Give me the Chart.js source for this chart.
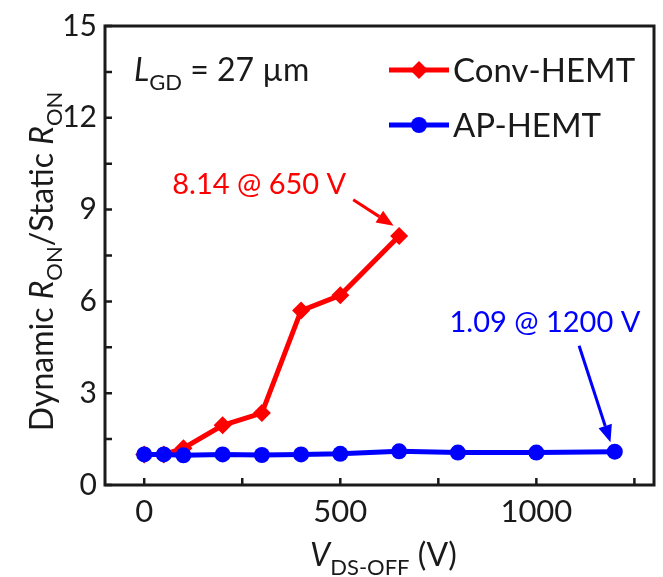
<!DOCTYPE html>
<html>
<head>
<meta charset="utf-8">
<script src="https://cdn.jsdelivr.net/npm/chart.js@4/dist/chart.umd.min.js"></script>
<style>
  html, body { margin: 0; padding: 0; background: #fff; }
</style>
</head>
<body>
<canvas id="chart" width="663" height="577"></canvas>
<script>
// Data
const convX = [0, 50, 100, 200, 300, 400, 500, 650];
const convY = [1.0, 1.0, 1.2, 1.95, 2.35, 5.7, 6.2, 8.14];
const apX = [0, 50, 100, 200, 300, 400, 500, 650, 800, 1000, 1200];
const apY = [1.0, 1.0, 0.97, 1.0, 0.98, 1.0, 1.02, 1.1, 1.06, 1.06, 1.09];

const xLabelTicks = [0, 500, 1000];
const xMinorTicks = [0, 250, 500, 750, 1000, 1250];
const yLabelTicks = [0, 3, 6, 9, 12, 15];
const yMinorTicks = [0, 1.5, 3, 4.5, 6, 7.5, 9, 10.5, 12, 13.5, 15];

const RED = '#ff0000';
const BLUE = '#0000ff';
const FONT = 'Lato';
const INK = '#1a1a1a';

// callouts, anchored in data units
const notes = [
  { text: '8.14 @ 650 V', color: RED, x: 515, y: 9.8, from: [533, 9.32], to: [636, 8.47] },
  { text: '1.09 @ 1200 V', color: BLUE, x: 1265, y: 5.3, from: [1109, 4.55], to: [1189, 1.4] }
];

function font(size, italic) {
  return (italic ? 'italic ' : '') + size + 'px ' + FONT;
}

// draw a list of text runs, subscripts smaller and lowered
function drawRuns(ctx, runs, x, y, size, align) {
  const subSize = Math.round(size * 0.68);
  let total = 0;
  runs.forEach(r => {
    ctx.font = font(r.sub ? subSize : size, r.italic);
    r.w = ctx.measureText(r.t).width;
    total += r.w;
  });
  let cx = align === 'center' ? x - total / 2 : (align === 'right' ? x - total : x);
  ctx.textAlign = 'left';
  ctx.textBaseline = 'alphabetic';
  runs.forEach(r => {
    ctx.font = font(r.sub ? subSize : size, r.italic);
    ctx.fillText(r.t, cx, r.sub ? y + size * 0.28 : y);
    cx += r.w;
  });
}

function drawArrow(ctx, x1, y1, x2, y2, color) {
  const ang = Math.atan2(y2 - y1, x2 - x1);
  const head = 17, half = 7;
  const bx = x2 - head * Math.cos(ang), by = y2 - head * Math.sin(ang);
  ctx.strokeStyle = color;
  ctx.fillStyle = color;
  ctx.lineWidth = 3;
  ctx.beginPath();
  ctx.moveTo(x1, y1);
  ctx.lineTo(bx, by);
  ctx.stroke();
  ctx.beginPath();
  ctx.moveTo(x2, y2);
  ctx.lineTo(bx + half * Math.sin(ang), by - half * Math.cos(ang));
  ctx.lineTo(bx - half * Math.sin(ang), by + half * Math.cos(ang));
  ctx.closePath();
  ctx.fill();
}

function drawMarker(ctx, style, x, y, r, color) {
  ctx.fillStyle = color;
  ctx.beginPath();
  if (style === 'rectRot') {
    ctx.moveTo(x, y - r);
    ctx.lineTo(x + r, y);
    ctx.lineTo(x, y + r);
    ctx.lineTo(x - r, y);
    ctx.closePath();
  } else {
    ctx.arc(x, y, r, 0, Math.PI * 2);
  }
  ctx.fill();
}

const decorations = {
  id: 'decorations',
  afterDraw(chart) {
    const ctx = chart.ctx;
    const ca = chart.chartArea;
    const xs = chart.scales.x, ys = chart.scales.y;
    ctx.save();

    // frame
    ctx.strokeStyle = INK;
    ctx.lineWidth = 3;
    ctx.strokeRect(ca.left, ca.top, ca.right - ca.left, ca.bottom - ca.top);

    // inward ticks
    ctx.lineWidth = 2.5;
    ctx.beginPath();
    yMinorTicks.forEach(v => {
      const py = ys.getPixelForValue(v);
      ctx.moveTo(ca.left, py);
      ctx.lineTo(ca.left + 7, py);
    });
    xMinorTicks.forEach(v => {
      const px = xs.getPixelForValue(v);
      ctx.moveTo(px, ca.bottom);
      ctx.lineTo(px, ca.bottom - 7);
    });
    ctx.stroke();

    // axis titles
    ctx.fillStyle = INK;
    drawRuns(ctx, [
      { t: 'V', italic: true },
      { t: 'DS-OFF', sub: true },
      { t: ' (V)' }
    ], (ca.left + ca.right) / 2 + 4, 566, 32, 'center');

    ctx.save();
    ctx.translate(53, (ca.top + ca.bottom) / 2 + 6);
    ctx.rotate(-Math.PI / 2);
    drawRuns(ctx, [
      { t: 'Dynamic ' },
      { t: 'R', italic: true },
      { t: 'ON', sub: true },
      { t: '/Static ' },
      { t: 'R', italic: true },
      { t: 'ON', sub: true }
    ], 0, 0, 32, 'center');
    ctx.restore();

    // L_GD label
    drawRuns(ctx, [
      { t: 'L', italic: true },
      { t: 'GD', sub: true },
      { t: ' = 27 \u00b5m' }
    ], ca.left + 29, ca.top + 55, 32, 'left');

    // legend
    const legend = [
      { label: 'Conv-HEMT', color: RED, style: 'rectRot', r: 9 },
      { label: 'AP-HEMT', color: BLUE, style: 'circle', r: 8 }
    ];
    legend.forEach((item, i) => {
      const ly = ca.top + 44 + i * 55;
      const lx0 = ca.right - 265, lx1 = ca.right - 205;
      ctx.strokeStyle = item.color;
      ctx.lineWidth = 5;
      ctx.beginPath();
      ctx.moveTo(lx0, ly);
      ctx.lineTo(lx1, ly);
      ctx.stroke();
      drawMarker(ctx, item.style, (lx0 + lx1) / 2, ly, item.r, item.color);
      ctx.fillStyle = INK;
      ctx.font = font(33);
      ctx.textAlign = 'left';
      ctx.textBaseline = 'middle';
      ctx.fillText(item.label, lx1 + 4, ly + 1);
    });

    // callouts
    notes.forEach(n => {
      ctx.fillStyle = n.color;
      ctx.font = font(29);
      ctx.textAlign = 'right';
      ctx.textBaseline = 'middle';
      ctx.fillText(n.text, xs.getPixelForValue(n.x), ys.getPixelForValue(n.y));
      drawArrow(ctx,
        xs.getPixelForValue(n.from[0]), ys.getPixelForValue(n.from[1]),
        xs.getPixelForValue(n.to[0]), ys.getPixelForValue(n.to[1]), n.color);
    });

    ctx.restore();
  }
};

new Chart(document.getElementById('chart'), {
  type: 'line',
  data: {
    datasets: [
      {
        label: 'AP-HEMT',
        data: apX.map((x, i) => ({ x: x, y: apY[i] })),
        borderColor: BLUE,
        backgroundColor: BLUE,
        borderWidth: 5,
        pointStyle: 'circle',
        pointRadius: 8,
        pointBorderWidth: 0,
        tension: 0,
        order: 0
      },
      {
        label: 'Conv-HEMT',
        data: convX.map((x, i) => ({ x: x, y: convY[i] })),
        borderColor: RED,
        backgroundColor: RED,
        borderWidth: 5,
        pointStyle: 'rectRot',
        pointRadius: 9,
        pointBorderWidth: 0,
        tension: 0,
        order: 1
      }
    ]
  },
  options: {
    responsive: false,
    animation: false,
    devicePixelRatio: 1,
    layout: { padding: { top: 23, right: 6, left: 0, bottom: 0 } },
    plugins: {
      legend: { display: false },
      tooltip: { enabled: false }
    },
    scales: {
      x: {
        type: 'linear',
        min: -100,
        max: 1300,
        grid: { display: false, drawTicks: false },
        border: { display: false },
        afterBuildTicks: s => { s.ticks = xLabelTicks.map(v => ({ value: v })); },
        afterFit: s => { s.height = 92; },
        ticks: { color: INK, font: { family: FONT, size: 31 }, padding: 8, maxRotation: 0, callback: v => String(v) }
      },
      y: {
        type: 'linear',
        min: 0,
        max: 15,
        grid: { display: false, drawTicks: false },
        border: { display: false },
        afterBuildTicks: s => { s.ticks = yLabelTicks.map(v => ({ value: v })); },
        afterFit: s => { s.width = 105; },
        ticks: { color: INK, font: { family: FONT, size: 30 }, padding: 8, callback: v => String(v) }
      }
    }
  },
  plugins: [decorations]
});
</script>
</body>
</html>
